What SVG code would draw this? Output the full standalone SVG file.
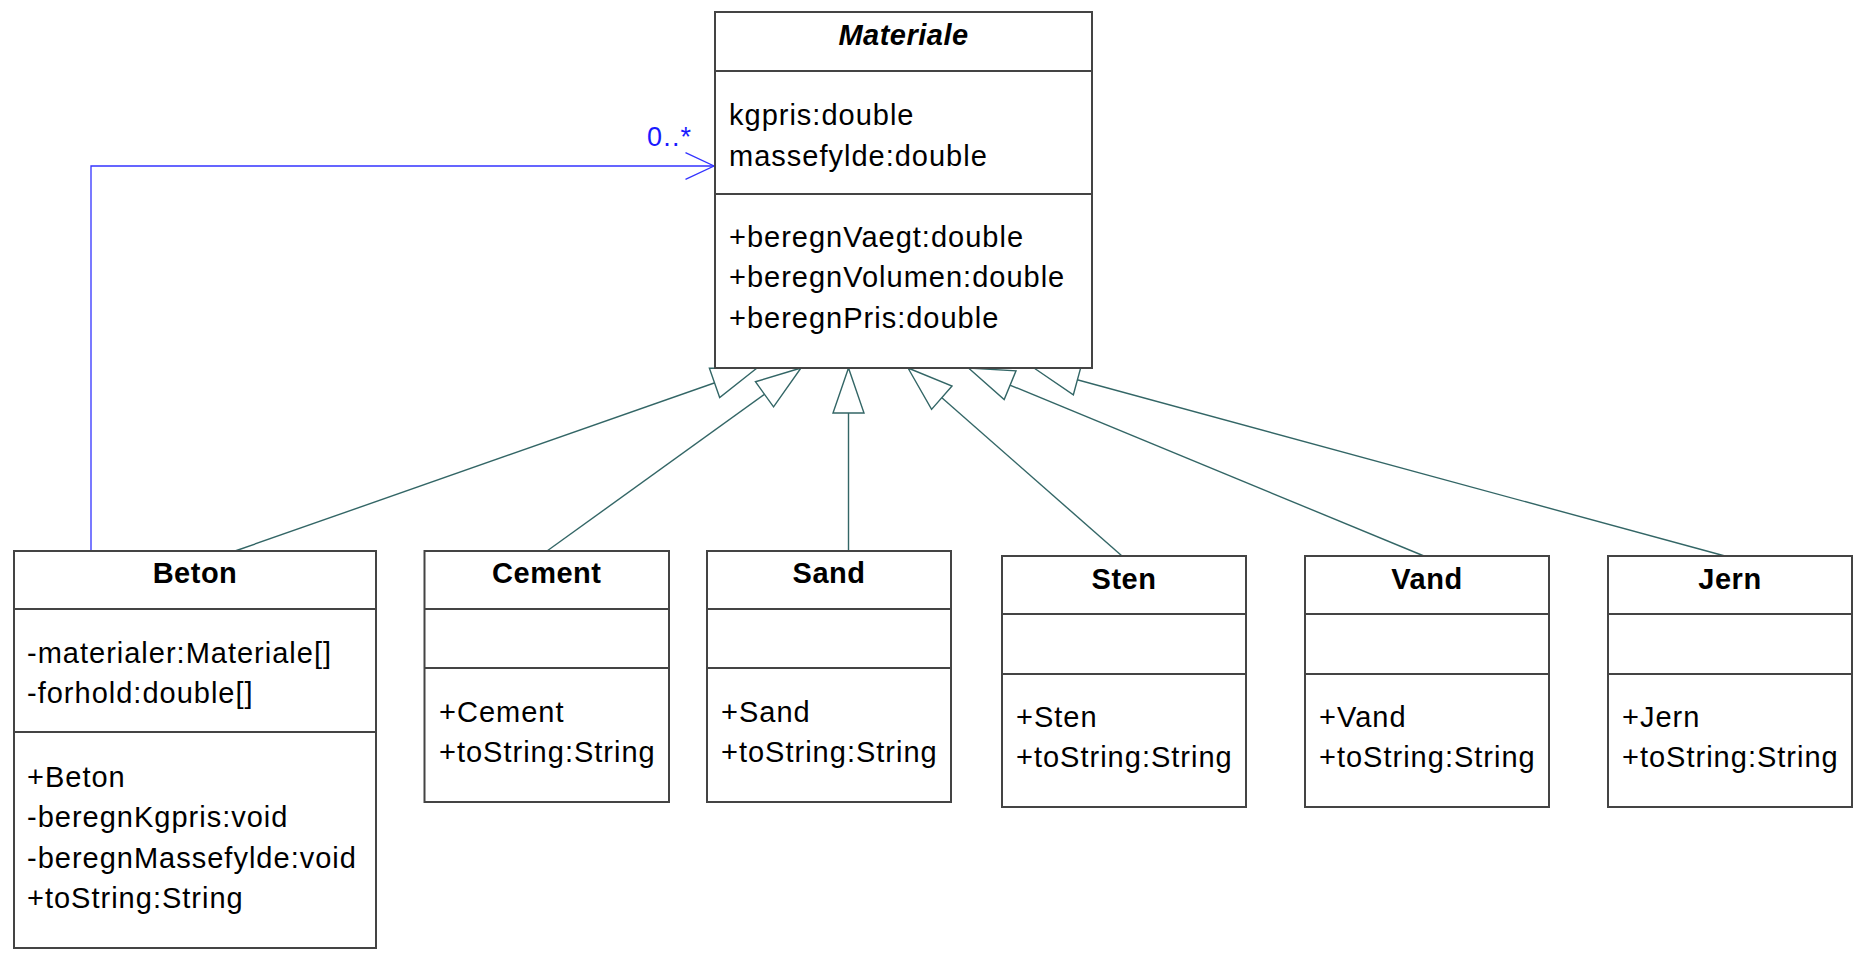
<svg xmlns="http://www.w3.org/2000/svg" width="1854" height="954" viewBox="0 0 1854 954">
  <style>
    .box { fill: #ffffff; stroke: #444444; stroke-width: 2; }
    .sep { stroke: #444444; stroke-width: 2; }
    .title { font-family: "Liberation Sans", Arial, sans-serif; font-size: 29px; font-weight: bold; letter-spacing: 0.5px; fill: #000000; text-anchor: middle; }
    .abstract { font-style: italic; }
    .member { font-family: "Liberation Sans", Arial, sans-serif; font-size: 29px; letter-spacing: 1px; fill: #000000; }
    .gen { stroke: #336666; stroke-width: 1.4; fill: none; marker-end: url(#hollowTriangle); }
    .assoc { stroke: #3333ff; stroke-width: 1.3; fill: none; marker-end: url(#openArrow); }
    .mult { font-family: "Liberation Sans", Arial, sans-serif; font-size: 27px; letter-spacing: 1.2px; fill: #1a1aff; }
  </style>
  <defs>
    <!-- UML generalization: hollow triangle, tip on the parent -->
    <marker id="hollowTriangle" markerUnits="userSpaceOnUse" viewBox="-48 -18 51 36" markerWidth="51" markerHeight="36" refX="0" refY="0" orient="auto">
      <path d="M0,0 L-45,-15.5 L-45,15.5 Z" fill="#ffffff" stroke="#336666" stroke-width="1.4"/>
    </marker>
    <!-- navigable association: open arrowhead -->
    <marker id="openArrow" markerUnits="userSpaceOnUse" viewBox="-31 -16 34 32" markerWidth="34" markerHeight="32" refX="0" refY="0" orient="auto">
      <path d="M-28.5,-13.3 L0,0 L-28.5,13.3" fill="none" stroke="#3333ff" stroke-width="1.3"/>
    </marker>
  </defs>

  <rect width="1854" height="954" fill="#ffffff"/>

  <g id="connectors">
    <line class="gen" x1="235" y1="551" x2="757" y2="368"/>
    <line class="gen" x1="547" y1="551" x2="801" y2="368"/>
    <line class="gen" x1="848.5" y1="551" x2="848.5" y2="368"/>
    <line class="gen" x1="1122" y1="556" x2="908" y2="368"/>
    <line class="gen" x1="1424" y1="556" x2="968.5" y2="368"/>
    <line class="gen" x1="1725" y1="556" x2="1034" y2="368"/>
    <polyline class="assoc" points="91,551 91,166 714,166"/>
    <text class="mult" x="647" y="146">0..*</text>
  </g>

  <g id="Materiale">
    <rect class="box" x="715" y="12" width="377" height="356"/>
    <line class="sep" x1="715" y1="71" x2="1092" y2="71"/>
    <line class="sep" x1="715" y1="194" x2="1092" y2="194"/>
    <text class="title abstract" x="903.5" y="45">Materiale</text>
    <text class="member" x="729" y="125">kgpris:double</text>
    <text class="member" x="729" y="166">massefylde:double</text>
    <text class="member" x="729" y="247">+beregnVaegt:double</text>
    <text class="member" x="729" y="287">+beregnVolumen:double</text>
    <text class="member" x="729" y="328">+beregnPris:double</text>
  </g>

  <g id="Beton">
    <rect class="box" x="14" y="551" width="362" height="397"/>
    <line class="sep" x1="14" y1="609" x2="376" y2="609"/>
    <line class="sep" x1="14" y1="732" x2="376" y2="732"/>
    <text class="title" x="195" y="583">Beton</text>
    <text class="member" x="27" y="663">-materialer:Materiale[]</text>
    <text class="member" x="27" y="703">-forhold:double[]</text>
    <text class="member" x="27" y="787">+Beton</text>
    <text class="member" x="27" y="827">-beregnKgpris:void</text>
    <text class="member" x="27" y="868">-beregnMassefylde:void</text>
    <text class="member" x="27" y="908">+toString:String</text>
  </g>

  <g id="Cement">
    <rect class="box" x="424.5" y="551" width="244.5" height="251"/>
    <line class="sep" x1="424.5" y1="609" x2="669" y2="609"/>
    <line class="sep" x1="424.5" y1="668" x2="669" y2="668"/>
    <text class="title" x="546.75" y="583">Cement</text>
    <text class="member" x="439" y="722">+Cement</text>
    <text class="member" x="439" y="762">+toString:String</text>
  </g>

  <g id="Sand">
    <rect class="box" x="707" y="551" width="244" height="251"/>
    <line class="sep" x1="707" y1="609" x2="951" y2="609"/>
    <line class="sep" x1="707" y1="668" x2="951" y2="668"/>
    <text class="title" x="829" y="583">Sand</text>
    <text class="member" x="721" y="722">+Sand</text>
    <text class="member" x="721" y="762">+toString:String</text>
  </g>

  <g id="Sten">
    <rect class="box" x="1002" y="556" width="244" height="251"/>
    <line class="sep" x1="1002" y1="614" x2="1246" y2="614"/>
    <line class="sep" x1="1002" y1="674" x2="1246" y2="674"/>
    <text class="title" x="1124" y="589">Sten</text>
    <text class="member" x="1016" y="727">+Sten</text>
    <text class="member" x="1016" y="767">+toString:String</text>
  </g>

  <g id="Vand">
    <rect class="box" x="1305" y="556" width="244" height="251"/>
    <line class="sep" x1="1305" y1="614" x2="1549" y2="614"/>
    <line class="sep" x1="1305" y1="674" x2="1549" y2="674"/>
    <text class="title" x="1427" y="589">Vand</text>
    <text class="member" x="1319" y="727">+Vand</text>
    <text class="member" x="1319" y="767">+toString:String</text>
  </g>

  <g id="Jern">
    <rect class="box" x="1608" y="556" width="244" height="251"/>
    <line class="sep" x1="1608" y1="614" x2="1852" y2="614"/>
    <line class="sep" x1="1608" y1="674" x2="1852" y2="674"/>
    <text class="title" x="1730" y="589">Jern</text>
    <text class="member" x="1622" y="727">+Jern</text>
    <text class="member" x="1622" y="767">+toString:String</text>
  </g>
</svg>
